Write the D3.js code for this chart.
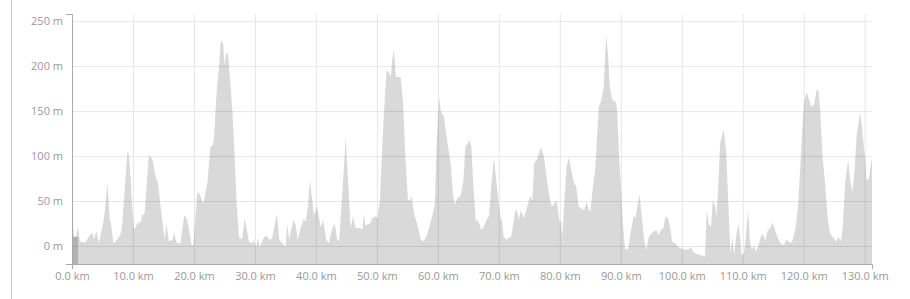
<!DOCTYPE html>
<html>
<head>
<meta charset="utf-8">
<script src="https://cdn.jsdelivr.net/npm/d3@7"></script>
<style>
  body { margin: 0; background: #fff; }
  .axis text { font-family: "Open Sans", sans-serif; font-size: 11px; fill: #999; }
  .axis path, .axis line { stroke: #aaa; }
  .grid line { stroke: #e6e6e6; }
  .grid path { display: none; }
</style>
</head>
<body>
<script>
// elevation profile (km, m)
var distanceKm = [
  0, 0.3, 0.6, 1.0, 1.3, 2.2, 3.0, 3.4, 3.6, 4.0, 4.4, 5.1, 5.4, 5.8, 6.2, 6.4, 6.8, 7.4, 7.9, 8.2,
  9.1, 9.3, 9.6, 9.9, 10.2, 10.7, 11.3, 11.5, 11.9, 12.6, 13.2, 13.7, 14.1, 14.6, 15.2, 15.5, 15.9, 16.5, 16.7, 17.2,
  17.8, 18.4, 18.8, 19.2, 19.6, 19.9, 20.5, 20.8, 21.4, 21.6, 22.2, 22.7, 23.1, 23.3, 23.7, 24.1, 24.4, 24.8, 25.0, 25.3,
  25.6, 25.9, 26.3, 26.7, 27.0, 27.4, 27.9, 28.3, 28.6, 29.0, 29.6, 29.8, 30.2, 30.5, 30.8, 31.5, 31.9, 32.4, 32.8, 33.6,
  34.0, 34.8, 35.0, 35.3, 35.6, 36.3, 36.7, 37.0, 37.5, 38.0, 38.3, 38.7, 39.0, 39.4, 39.7, 40.2, 40.8, 41.2, 41.7, 42.1,
  42.7, 43.1, 43.5, 43.8, 44.3, 44.9, 45.2, 45.7, 46.1, 46.5, 47.3, 47.6, 47.9, 48.1, 48.9, 49.2, 49.8, 50.1, 50.5, 50.9,
  51.3, 51.6, 52.0, 52.3, 52.5, 52.8, 53.1, 53.6, 53.9, 54.3, 54.7, 55.1, 55.4, 55.7, 56.1, 56.6, 57.2, 57.7, 58.3, 59.1,
  59.5, 59.8, 60.2, 60.5, 61.0, 61.5, 62.1, 62.5, 62.8, 63.2, 63.7, 64.2, 64.5, 64.9, 65.2, 65.5, 65.8, 66.2, 66.7, 67.1,
  67.5, 68.1, 68.4, 68.7, 69.2, 69.6, 70.0, 70.3, 70.5, 70.8, 71.3, 71.6, 72.0, 72.3, 72.7, 73.0, 73.3, 73.6, 73.8, 74.1,
  74.5, 75.1, 75.5, 75.8, 76.2, 76.6, 76.9, 77.4, 77.9, 78.4, 78.7, 79.1, 79.5, 79.7, 80.0, 80.2, 80.4, 80.8, 81.1, 81.5,
  81.9, 82.3, 82.7, 83.1, 83.7, 84.0, 84.4, 84.8, 85.0, 85.5, 85.8, 86.1, 86.4, 86.8, 87.2, 87.4, 87.6, 87.9, 88.2, 88.6,
  89.2, 89.4, 89.7, 90.1, 90.4, 90.7, 91.2, 91.5, 91.9, 92.1, 92.4, 92.7, 93.1, 93.5, 93.9, 94.2, 94.6, 94.9, 95.4, 95.8,
  96.2, 96.6, 97.0, 97.3, 97.7, 98.1, 98.4, 98.9, 99.5, 100.0, 100.5, 101.1, 101.5, 101.9, 102.5, 103.0, 103.6, 103.8, 104.1, 104.4,
  104.8, 105.1, 105.5, 105.7, 106.0, 106.3, 106.7, 106.9, 107.3, 107.5, 107.8, 108.0, 108.3, 108.6, 108.9, 109.3, 109.6, 109.8, 110.2, 110.5,
  110.9, 111.2, 111.5, 111.9, 112.2, 112.6, 113.0, 113.4, 113.7, 114.0, 114.5, 114.9, 115.3, 115.7, 116.0, 116.4, 116.8, 117.1, 117.5, 117.9,
  118.2, 118.7, 119.1, 119.5, 119.8, 120.1, 120.5, 120.9, 121.3, 121.7, 122.1, 122.4, 122.7, 123.1, 123.5, 123.9, 124.3, 124.9, 125.3, 125.7,
  126.1, 126.4, 126.8, 127.0, 127.3, 127.6, 128.0, 128.3, 128.7, 129.0, 129.2, 129.5, 129.8, 130.1, 130.3, 130.7, 131.0, 131.2
];
var elevationM = [
  40, 12, 10, 21, 5, 4, 13, 14, 7, 17, 3, 25, 40, 71, 29, 25, 3, 7, 12, 21,
  105, 103, 77, 40, 18, 25, 27, 34, 36, 101, 97, 77, 70, 40, 7, 25, 5, 7, 15, 3,
  3, 34, 31, 18, 1, 1, 57, 60, 49, 49, 70, 110, 112, 121, 170, 199, 229, 225, 201, 216,
  212, 188, 151, 96, 47, 10, 7, 31, 21, 5, 3, 7, -1.5, 9, -1, 10, 11, 7, 8, 36,
  7, 1, -1, 25, 7, 29, 23, 7, 20, 30, 27, 44, 73, 51, 34, 44, 21, 29, 7, 3,
  20, 25, 7, 5, 55, 121, 81, 20, 33, 20, 20, 18, 36, 23, 25, 31, 33, 31, 51, 114,
  166, 196, 192, 188, 207, 218, 188, 188, 188, 159, 96, 51, 51, 55, 36, 25, 7, 5, 14, 34,
  47, 114, 166, 149, 144, 118, 92, 55, 46, 53, 55, 73, 110, 114, 118, 110, 70, 29, 27, 18,
  21, 31, 33, 62, 99, 71, 47, 29, 31, 10, 7, 9, 10, 21, 40, 38, 29, 40, 36, 31,
  40, 55, 51, 92, 96, 103, 110, 99, 73, 51, 44, 47, 51, 40, 25, 29, 10, 55, 88, 99,
  84, 71, 66, 44, 41, 40, 49, 40, 38, 70, 84, 121, 155, 162, 177, 207, 234, 213, 177, 162,
  160, 151, 103, 55, 21, -3, -4, 10, 25, 34, 31, 44, 57, 29, 3, -4, 10, 13, 16, 18,
  12, 18, 20, 32, 32, 21, 5, 3, -1.5, -3, -4, -4, -1, -7, -9, -10, -11, -12, 40, 25,
  21, 51, 44, 33, 70, 114, 125, 129, 103, 70, 21, -8, 10, -10, 10, 25, 7, -10, -8, 10,
  40, 3, -4, 0, -6, 1, 11, 13, 5, 16, 20, 26, 18, 10, 5, 2, 1, 7, 5, 3,
  7, 21, 47, 96, 133, 162, 171, 162, 155, 157, 173, 174, 151, 99, 70, 33, 14, 9, 5, 10,
  5, 21, 70, 81, 96, 73, 60, 81, 125, 136, 149, 136, 114, 96, 73, 75, 92, 96
];

// darker stretch at the very start of the profile
var highlightKm = [0, 1.0];
var highlightM = [10, 10];

var xTicks = [0, 10, 20, 30, 40, 50, 60, 70, 80, 90, 100, 110, 120, 130];
var yTicks = [0, 50, 100, 150, 200, 250];

var margin = {top: 14, right: 38, bottom: 35, left: 72},
    width = 910 - margin.left - margin.right,
    height = 299 - margin.top - margin.bottom;

var data = distanceKm.map(function(d, i) { return {km: d, m: elevationM[i]}; });
var hl = highlightKm.map(function(d, i) { return {km: d, m: highlightM[i]}; });

var x = d3.scaleLinear().domain([0, 131.2]).range([0, width]);
var y = d3.scaleLinear().domain([-20, 258]).range([height, 0]);

var root = d3.select("body").append("svg")
    .attr("width", 910)
    .attr("height", 299);

// thin border line on the left of the panel
root.append("line")
    .attr("x1", 11.5).attr("x2", 11.5)
    .attr("y1", 0).attr("y2", 299)
    .attr("stroke", "#ccc");

var svg = root.append("g")
    .attr("transform", "translate(" + margin.left + "," + margin.top + ")");

// grid
svg.append("g")
    .attr("class", "grid")
    .attr("transform", "translate(0," + height + ")")
    .call(d3.axisBottom(x).tickValues(xTicks).tickSize(-height).tickFormat(""));
svg.append("g")
    .attr("class", "grid")
    .call(d3.axisLeft(y).tickValues(yTicks).tickSize(-width).tickFormat(""));

// area
var area = d3.area()
    .x(function(d) { return x(d.km); })
    .y0(height)
    .y1(function(d) { return y(d.m); });

svg.append("path")
    .datum(data)
    .attr("fill", "#000")
    .attr("fill-opacity", 0.15)
    .attr("d", area);

svg.append("path")
    .datum(hl)
    .attr("fill", "#000")
    .attr("fill-opacity", 0.18)
    .attr("d", area);

// axes
svg.append("g")
    .attr("class", "axis")
    .attr("transform", "translate(0," + height + ")")
    .call(d3.axisBottom(x)
      .tickValues(xTicks)
      .tickSizeInner(0)
      .tickSizeOuter(5)
      .tickPadding(8)
      .tickFormat(function(d) { return d3.format(".1f")(d) + " km"; }));

svg.append("g")
    .attr("class", "axis")
    .call(d3.axisLeft(y)
      .tickValues(yTicks)
      .tickSizeInner(0)
      .tickSizeOuter(6)
      .tickPadding(9)
      .tickFormat(function(d) { return d + " m"; }));
</script>
</body>
</html>
